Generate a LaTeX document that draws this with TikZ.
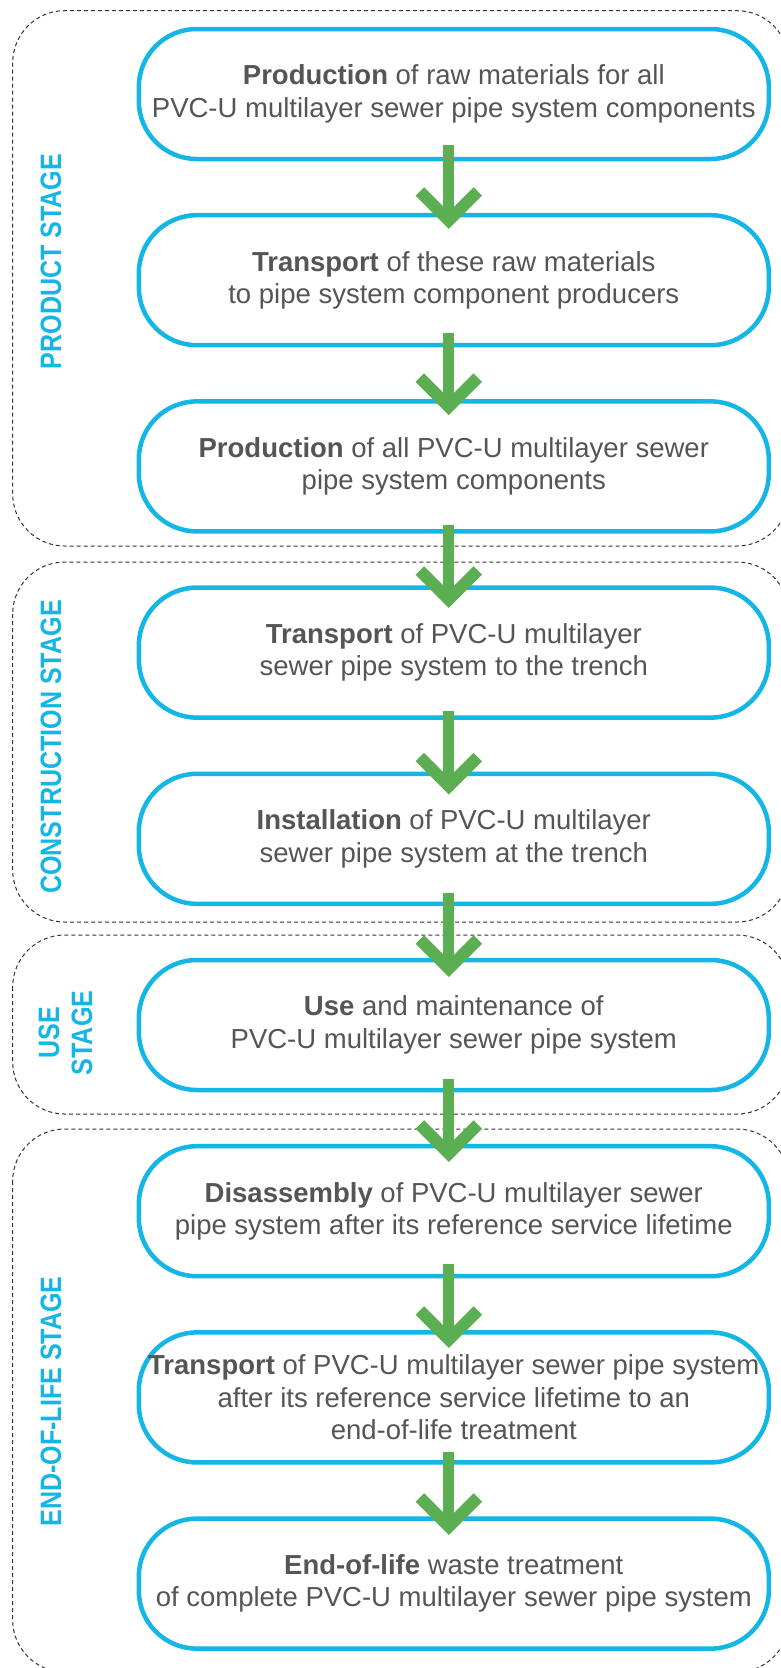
\documentclass[tikz,border=0pt]{standalone}
\usepackage{fontspec}
\setmainfont{Liberation Sans}
\definecolor{boxblue}{HTML}{14B6E6}
\definecolor{arrowgreen}{HTML}{5BAF52}
\definecolor{txtgray}{HTML}{555555}
\definecolor{dashgray}{HTML}{333333}
\newcommand\flowarrow[4]{%
  \draw[shaft] ([xshift=-5pt,yshift=#3]#1.south) -- ([xshift=-5pt,yshift=-#4+10pt]#2.north);
  \draw[chev] ([xshift=-34pt,yshift=-#4+37.5pt]#2.north) -- ([xshift=-5pt,yshift=-#4+8.5pt]#2.north) -- ([xshift=24pt,yshift=-#4+37.5pt]#2.north);
}
\newcommand\narrowlabel[1]{\scalebox{0.85}[1]{#1}}
\begin{document}
\begin{tikzpicture}[x=1pt,y=1pt,
  stagebox/.style={draw=dashgray, line width=1pt, dash pattern=on 4pt off 3pt, rounded corners=52pt},
  stepbox/.style={draw=boxblue, line width=4.5pt, rounded corners=58pt, fill=white,
    minimum width=630pt, minimum height=130pt, align=center, text=txtgray,
    font=\fontsize{27.5}{32.5}\selectfont, inner sep=0pt},
  stagelabel/.style={text=boxblue, font=\bfseries\fontsize{29.5}{33}\selectfont,
    rotate=90, inner sep=0pt},
  shaft/.style={draw=arrowgreen, line width=11pt},
  chev/.style={draw=arrowgreen, line width=12pt, miter limit=10, line join=miter, line cap=butt}
]
\useasboundingbox (0,0) rectangle (781,-1668);

% stage frames
\draw[stagebox] (12.7,-10.7) rectangle (789,-546);
\draw[stagebox] (12.7,-562) rectangle (789,-922);
\draw[stagebox] (12.7,-935) rectangle (789,-1114);
\draw[stagebox] (12.7,-1129) rectangle (789,-1672);

% stage labels
\node[stagelabel] (lprod) at (51,-261.5) {\narrowlabel{PRODUCT STAGE}};
\node[stagelabel] (lcons) at (51,-747) {\narrowlabel{CONSTRUCTION STAGE}};
\node[stagelabel] (luse) at (69,-1033) {\narrowlabel{\begin{tabular}{@{}c@{}}USE\\STAGE\end{tabular}}};
\node[stagelabel] (lend) at (51,-1401.5) {\narrowlabel{END-OF-LIFE STAGE}};

% steps
\node[stepbox] (b1) at (453.8,-94) {\textbf{Production} of raw materials for all\\PVC-U multilayer sewer pipe system components};
\node[stepbox] (b2) at (453.8,-280.2) {\textbf{Transport} of these raw materials\\to pipe system component producers};
\node[stepbox] (b3) at (453.8,-466.4) {\textbf{Production} of all PVC-U multilayer sewer\\pipe system components};
\node[stepbox] (b4) at (453.8,-652.6) {\textbf{Transport} of PVC-U multilayer\\sewer pipe system to the trench};
\node[stepbox] (b5) at (453.8,-838.8) {\textbf{Installation} of PVC-U multilayer\\sewer pipe system at the trench};
\node[stepbox] (b6) at (453.8,-1025) {\textbf{Use} and maintenance of\\PVC-U multilayer sewer pipe system};
\node[stepbox] (b7) at (453.8,-1211.2) {\textbf{Disassembly} of PVC-U multilayer sewer\\pipe system after its reference service lifetime};
\node[stepbox] (b8) at (453.8,-1397.4) {\textbf{Transport} of PVC-U multilayer sewer pipe system\\after its reference service lifetime to an\\end-of-life treatment};
\node[stepbox] (b9) at (453.8,-1583.6) {\textbf{End-of-life} waste treatment\\of complete PVC-U multilayer sewer pipe system};

% arrows
\flowarrow{b1}{b2}{16pt}{16pt}
\flowarrow{b2}{b3}{14.5pt}{16pt}
\flowarrow{b3}{b4}{8.6pt}{22.6pt}
\flowarrow{b4}{b5}{8.8pt}{23pt}
\flowarrow{b5}{b6}{13pt}{19.2pt}
\flowarrow{b6}{b7}{13.2pt}{18pt}
\flowarrow{b7}{b8}{14.5pt}{17.8pt}
\flowarrow{b8}{b9}{12.6pt}{18.6pt}
\end{tikzpicture}
\end{document}
